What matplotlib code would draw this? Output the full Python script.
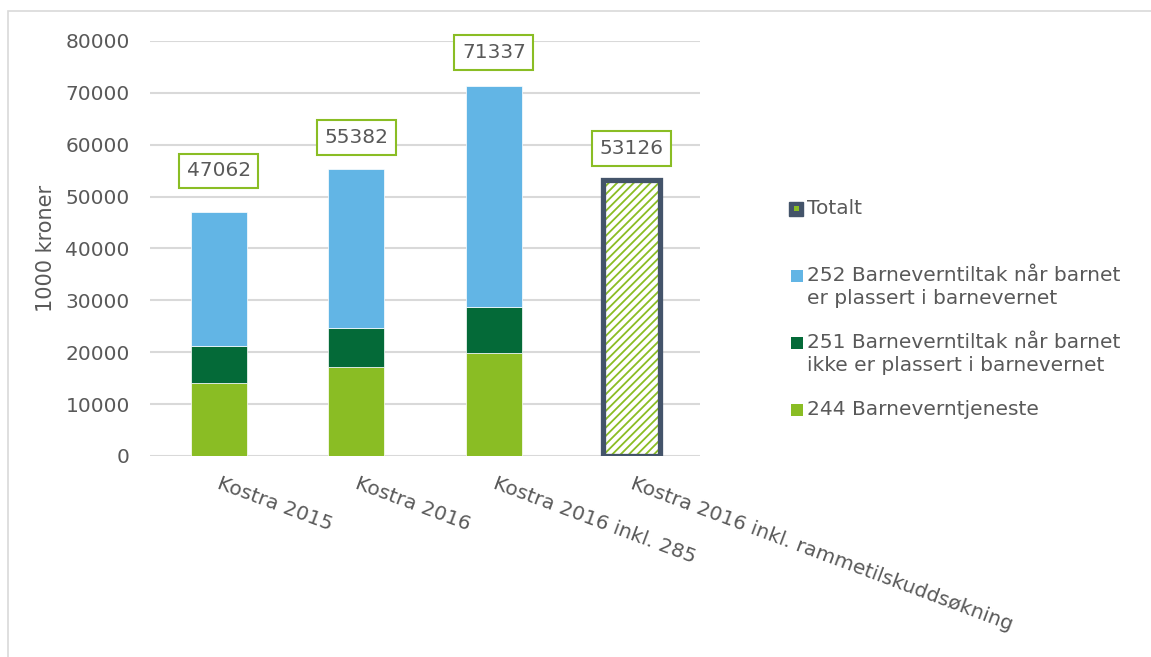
import matplotlib.pyplot as plt
import matplotlib.transforms as mtransforms
import numpy as np
from matplotlib.patches import Rectangle

# tall i 1000 kroner
kategorier = ['Kostra 2015', 'Kostra 2016', 'Kostra 2016 inkl. 285',
              'Kostra 2016 inkl. rammetilskuddsøkning']
tjeneste_244 = [14000, 17200, 19900, 0]
tiltak_251 = [7200, 7500, 8800, 0]
tiltak_252 = [25862, 30682, 42637, 0]
totalt = [47062, 55382, 71337, 53126]

serienavn = ['Totalt',
             '252 Barneverntiltak når barnet\ner plassert i barnevernet',
             '251 Barneverntiltak når barnet\nikke er plassert i barnevernet',
             '244 Barneverntjeneste']

grå = '#595959'
lysgrønn = '#8ABD24'
mørkgrønn = '#046A38'
lysblå = '#62B5E5'
skifer = '#44546A'
fs = 14.5

plt.rcParams['font.family'] = 'DejaVu Sans'
plt.rcParams['hatch.linewidth'] = 1.3

fig = plt.figure(figsize=(11.51, 6.57), dpi=100)
ax = fig.add_axes([0.1303, 0.306, 0.478, 0.6316])

x = np.arange(len(kategorier))
b = 0.41
ax.bar(x, tjeneste_244, b, color=lysgrønn, edgecolor='white', linewidth=0.5, zorder=3)
ax.bar(x, tiltak_251, b, bottom=tjeneste_244, color=mørkgrønn, edgecolor='white',
       linewidth=0.5, zorder=3)
bunn = np.array(tjeneste_244) + np.array(tiltak_251)
ax.bar(x, tiltak_252, b, bottom=bunn, color=lysblå, edgecolor='white', linewidth=0.5, zorder=3)

# totalen vises bare som skravert søyle i siste kategori
ax.bar(x[3], totalt[3], b, color='white', edgecolor=lysgrønn, hatch='////',
       linewidth=0, zorder=3)
ax.bar(x[3], totalt[3], b, color='none', edgecolor=skifer, linewidth=3.8, zorder=4)

# verdietiketter over søylene (avstand i punkter)
avstand = [29.5, 22.5, 24, 23]
for xi, t, d in zip(x, totalt, avstand):
    ax.annotate(str(t), (xi, t), xytext=(0, d), textcoords='offset points',
                ha='center', va='center', fontsize=fs, color=grå,
                bbox=dict(boxstyle='square,pad=0.38', fc='white', ec=lysgrønn, lw=1.5),
                annotation_clip=False, zorder=5)

ax.set_xlim(-0.5, 3.5)
ax.set_ylim(0, 80000)
ax.set_yticks(np.arange(0, 80001, 10000))
ax.grid(axis='y', color='#D9D9D9', linewidth=1.5, zorder=0)
for s in ax.spines.values():
    s.set_visible(False)
ax.tick_params(axis='both', length=0, labelsize=fs, labelcolor=grå)
ax.tick_params(axis='y', pad=14.5)
ax.set_xticks(x)
ax.set_xticklabels(kategorier, rotation=-20.5, ha='left', va='top', rotation_mode='anchor')
flytt = mtransforms.ScaledTranslation(0.03, -0.13, fig.dpi_scale_trans)
for lbl in ax.get_xticklabels():
    lbl.set_transform(lbl.get_transform() + flytt)
ax.set_ylabel('1000 kroner', fontsize=15, color=grå, labelpad=7)

# forklaring
fargekoder = [None, lysblå, mørkgrønn, lysgrønn]
ytekst = [209, 276, 343, 410]
for navn, farge, yp in zip(serienavn, fargekoder, ytekst):
    fy = 1 - yp / 657
    if farge is None:
        fig.patches.append(Rectangle((789 / 1151, fy - 7 / 657), 14 / 1151, 14 / 657,
                                     transform=fig.transFigure, fc=skifer, ec=skifer, lw=1))
        fig.patches.append(Rectangle((794 / 1151, fy - 2 / 657), 5 / 1151, 5 / 657,
                                     transform=fig.transFigure, fc=lysgrønn, ec='none'))
    else:
        fig.patches.append(Rectangle((791 / 1151, fy - 6 / 657), 12 / 1151, 12 / 657,
                                     transform=fig.transFigure, fc=farge, ec='none'))
    fig.text(807 / 1151, fy + 10 / 657, navn, ha='left', va='top', fontsize=fs,
             color=grå, linespacing=1.27)

# ramme rundt diagrammet
fig.patches.append(Rectangle((8 / 1151, -0.05), 1.2, 1 - 11 / 657 + 0.05,
                             transform=fig.transFigure, fc='none', ec='#D9D9D9', lw=1.2))

fig.savefig('out.png', dpi=100)
